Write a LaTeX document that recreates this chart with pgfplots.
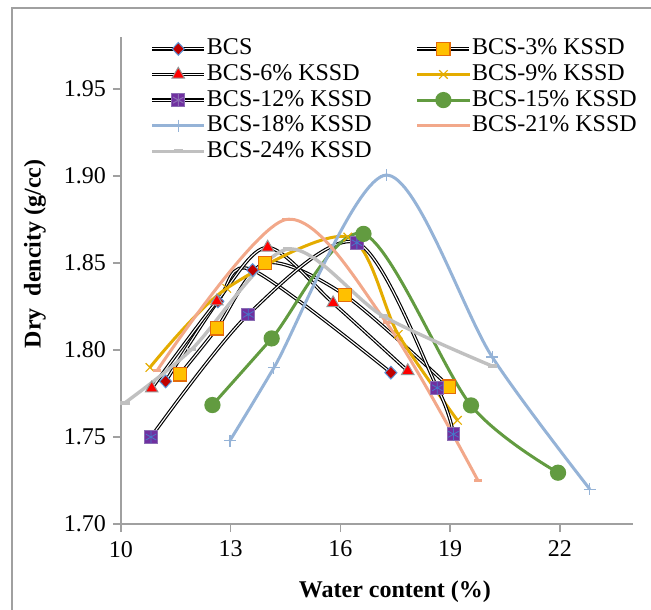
\documentclass[border=0pt]{standalone}
\usepackage{pgfplots}
\usepackage{pgfplotstable}
\pgfplotsset{compat=1.18}
\usepackage{fontspec}
\setmainfont{Liberation Serif}

\definecolor{axgray}{RGB}{160,160,160}
\definecolor{gold}{RGB}{228,172,0}
\definecolor{sqfill}{RGB}{255,192,0}
\definecolor{sqedge}{RGB}{228,108,10}
\definecolor{dred}{RGB}{192,0,0}
\definecolor{dedge}{RGB}{90,150,215}
\definecolor{tedge}{RGB}{150,150,150}
\definecolor{purp}{RGB}{112,48,160}
\definecolor{purpedge}{RGB}{140,110,180}
\definecolor{starblue}{RGB}{70,120,200}
\definecolor{grn}{RGB}{98,155,64}
\definecolor{lblue}{RGB}{149,179,215}
\definecolor{salmon}{RGB}{242,168,138}
\definecolor{lgray}{RGB}{192,192,192}

% water content (%) vs dry density (g/cc)
\pgfplotstableread{
x y
11.22 1.782
12.65 1.828
13.60 1.846
17.38 1.787
}\bcs
\pgfplotstableread{
x y
11.61 1.786
12.62 1.8125
13.94 1.850
16.12 1.8316
18.97 1.779
}\kssdthree
\pgfplotstableread{
x y
10.84 1.778
12.62 1.828
14.01 1.859
15.80 1.827
17.84 1.788
}\kssdsix
\pgfplotstableread{
x y
10.79 1.790
12.89 1.8355
16.20 1.865
17.58 1.809
19.20 1.7596
}\kssdnine
\pgfplotstableread{
x y
10.82 1.750
13.48 1.8205
16.45 1.8617
18.65 1.7783
19.09 1.7516
}\kssdtwelve
\pgfplotstableread{
x y
12.50 1.7684
14.12 1.8067
16.63 1.8668
19.57 1.7682
21.95 1.7295
}\kssdfifteen
\pgfplotstableread{
x y
12.98 1.748
14.18 1.7898
17.25 1.9006
20.15 1.796
22.82 1.720
}\kssdeighteen
\pgfplotstableread{
x y
10.98 1.788
14.50 1.875
17.26 1.8157
19.76 1.725
}\kssdtwentyone
\pgfplotstableread{
x y
10.11 1.7697
11.93 1.8004
14.55 1.858
17.17 1.8195
20.15 1.7908
}\kssdtwentyfour

\pgfplotsset{
  outer line/.style={black, line width=1.7pt, smooth, forget plot},
  inner line/.style={white, line width=0.55pt, smooth, forget plot},
  wide legend/.style={legend image code/.code={
    \draw[mark repeat=2, mark phase=2, ##1] plot coordinates {(0pt,0pt) (13pt,0pt) (26pt,0pt)};
  }},
  dbl legend/.style={legend image code/.code={
    \draw[black, line width=1.7pt] (0pt,0pt) -- (26pt,0pt);
    \draw[white, line width=0.55pt] (0pt,0pt) -- (26pt,0pt);
    \draw[mark repeat=2, mark phase=2, ##1, only marks] plot coordinates {(0pt,0pt) (13pt,0pt) (26pt,0pt)};
  }},
  dbl star legend/.style={legend image code/.code={
    \draw[black, line width=1.7pt] (0pt,0pt) -- (26pt,0pt);
    \draw[white, line width=0.55pt] (0pt,0pt) -- (26pt,0pt);
    \draw[mark repeat=2, mark phase=2, ##1, only marks] plot coordinates {(0pt,0pt) (13pt,0pt) (26pt,0pt)};
    \draw[starblue, line width=0.4pt, mark=asterisk, mark size=3pt, only marks] plot coordinates {(13pt,0pt)};
  }},
}

\begin{document}
\begin{tikzpicture}
\useasboundingbox (-60.5pt,-42.5pt) rectangle (265pt,262pt);
\draw[axgray, line width=0.7pt] (-54.5pt,-43pt) -- (-54.5pt,258pt) -- (266pt,258pt);
\begin{axis}[
  at={(0,0)}, anchor=south west,
  scale only axis,
  width=256pt, height=243.5pt,
  xmin=10, xmax=24,
  ymin=1.70, ymax=1.98,
  axis x line*=bottom,
  axis y line*=left,
  axis line style={axgray, line width=0.7pt},
  xtick={10,13,16,19,22},
  ytick={1.70,1.75,1.80,1.85,1.90,1.95},
  tick align=outside,
  major tick length=4pt,
  tick style={axgray, line width=0.7pt},
  /pgf/number format/assume math mode=true,
  yticklabel style={/pgf/number format/.cd, fixed, fixed zerofill, precision=2},
  tick label style={font=\fontsize{12}{14}\selectfont},
  xticklabel style={yshift=-1pt},
  xlabel={Water content (\%)},
  ylabel={Dry\ \ dencity (g/cc)},
  label style={font=\fontsize{12}{14}\selectfont\bfseries},
  xlabel style={at={(axis description cs:0.535,-0.14)}, anchor=center},
  ylabel style={at={(axis description cs:-0.168,0.555)}, anchor=center},
  legend columns=2,
  legend cell align=left,
  wide legend,
  legend style={
    at={(axis description cs:0.057,0.999)}, anchor=north west,
    draw=none, fill=none, inner sep=0pt,
    font=\fontsize{12}{14}\selectfont,
    row sep=1.8pt,
    nodes={inner sep=0pt, text height=8.5pt, text depth=2.5pt},
    /tikz/every odd column/.append style={column sep=0.5pt},
    /tikz/every even column/.append style={column sep=22pt},
  },
]

% BCS
\addplot[outer line] table {\bcs};
\addplot[inner line] table {\bcs};
\addplot[only marks, mark=diamond*, mark size=3.2pt,
  mark options={fill=dred, draw=dedge, line width=0.5pt, xscale=1.25}, dbl legend] table {\bcs};
\addlegendentry{BCS}

% BCS-3% KSSD
\addplot[outer line] table {\kssdthree};
\addplot[inner line] table {\kssdthree};
\addplot[only marks, mark=square*, mark size=3.3pt,
  mark options={fill=sqfill, draw=sqedge, line width=0.6pt}, dbl legend] table {\kssdthree};
\addlegendentry{BCS-3\% KSSD}

% BCS-6% KSSD
\addplot[outer line] table {\kssdsix};
\addplot[inner line] table {\kssdsix};
\addplot[only marks, mark=triangle*, mark size=3.6pt,
  mark options={fill=red, draw=tedge, line width=0.5pt}, dbl legend] table {\kssdsix};
\addlegendentry{BCS-6\% KSSD}

% BCS-9% KSSD
\addplot[gold, line width=1.5pt, smooth, mark=x, mark size=3pt,
  mark options={gold, line width=0.6pt}] table {\kssdnine};
\addlegendentry{BCS-9\% KSSD}

% BCS-12% KSSD
\addplot[outer line] table {\kssdtwelve};
\addplot[inner line] table {\kssdtwelve};
\addplot[only marks, mark=square*, mark size=3.2pt,
  mark options={fill=purp, draw=purpedge, line width=0.5pt},
  dbl star legend] table {\kssdtwelve};
\addlegendentry{BCS-12\% KSSD}
\addplot[only marks, mark=asterisk, mark size=3pt, forget plot,
  mark options={starblue, line width=0.4pt}] table {\kssdtwelve};

% BCS-15% KSSD
\addplot[grn, line width=1.5pt, smooth, mark=*, mark size=3.3pt,
  mark options={fill=grn, draw=grn}] table {\kssdfifteen};
\addlegendentry{BCS-15\% KSSD}

% BCS-18% KSSD
\addplot[lblue, line width=1.5pt, smooth, mark=+, mark size=3pt,
  mark options={lblue, line width=0.6pt}] table {\kssdeighteen};
\addlegendentry{BCS-18\% KSSD}

% BCS-21% KSSD
\addplot[salmon, line width=1.5pt, smooth, mark=-, mark size=2pt,
  mark options={salmon, line width=1.5pt}] table {\kssdtwentyone};
\addlegendentry{BCS-21\% KSSD}

% BCS-24% KSSD
\addplot[lgray, line width=1.7pt, smooth, mark=-, mark size=2.3pt,
  mark options={lgray, line width=1.8pt}] table {\kssdtwentyfour};
\addlegendentry{BCS-24\% KSSD}

\end{axis}
\end{tikzpicture}
\end{document}
